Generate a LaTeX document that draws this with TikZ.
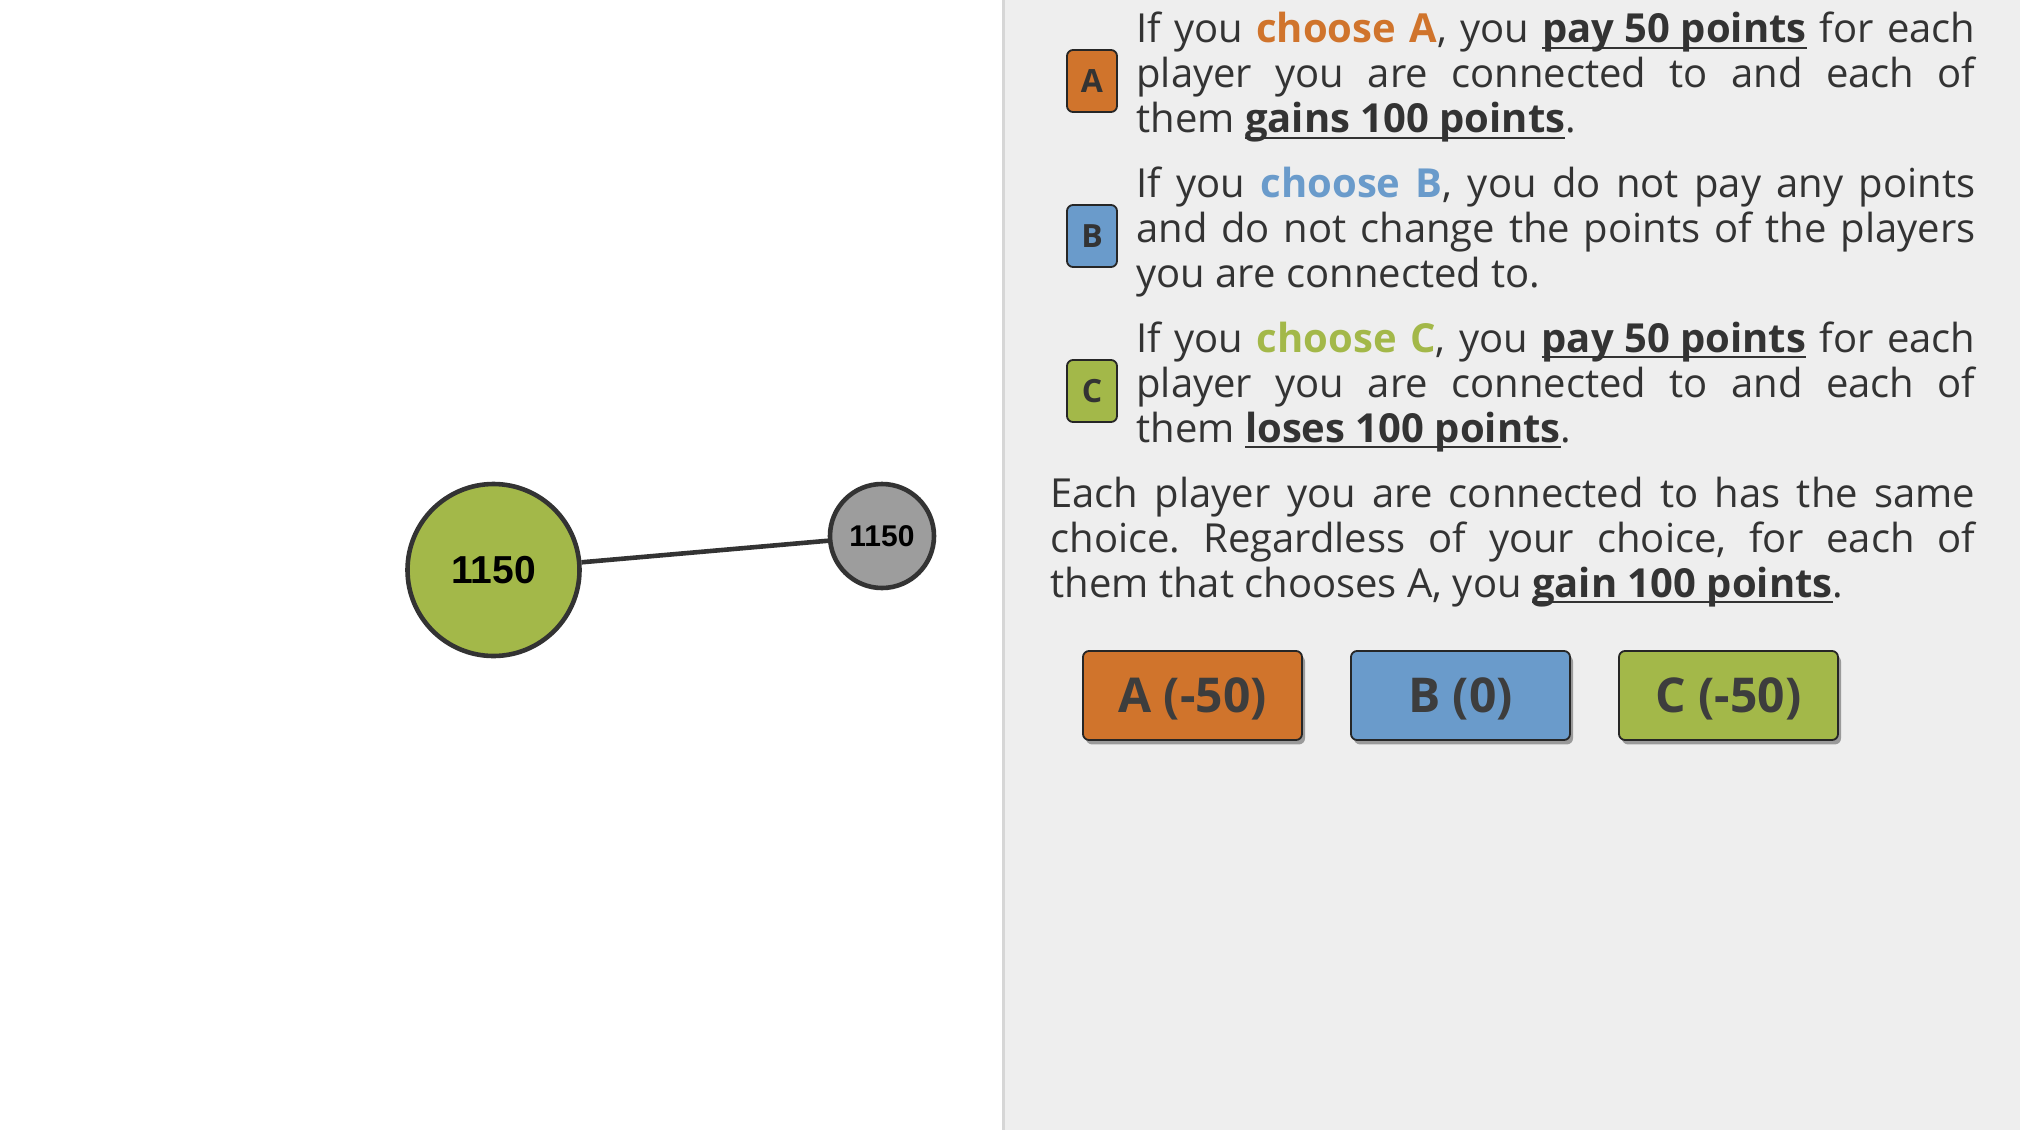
\documentclass[tikz,border=0pt]{standalone}
\usepackage{fontspec}
\setmainfont{Open Sans}
\newfontfamily\numfont{Liberation Sans}
\usetikzlibrary{shadows}

\definecolor{choiceA}{HTML}{D0742C}
\definecolor{choiceB}{HTML}{6A9BCB}
\definecolor{choiceC}{HTML}{A3B849}
\definecolor{peergray}{HTML}{9D9D9D}
\definecolor{panel}{HTML}{EEEEEE}
\definecolor{panelline}{HTML}{D6D6D6}
\definecolor{ink}{HTML}{333333}

\newcommand{\pts}[1]{\setbox0\hbox{\bfseries #1}\rlap{\rule[-3.2pt]{\wd0}{1.2pt}}\box0\relax}
\frenchspacing

\begin{document}
\begin{tikzpicture}[x=0.5pt, y=-0.5pt]
		\tikzstyle{self}=[circle, draw=ink, line width=2.3pt, inner sep=0pt, minimum size=86pt, font=\numfont\bfseries\fontsize{19.5pt}{20pt}\selectfont];
		\tikzstyle{peer}=[circle, draw=ink, line width=2.3pt, inner sep=0pt, minimum size=52pt, font=\numfont\bfseries\fontsize{15pt}{16pt}\selectfont];
		\tikzstyle{link}=[draw=ink, line width=2.3pt];
		\tikzstyle{para}=[anchor=base west, inner sep=0pt, align=justify, text=ink, font=\fontsize{20pt}{22.5pt}\selectfont];
		\tikzstyle{badge}=[draw=black!85, line width=0.9pt, rounded corners=3pt, minimum width=25pt, minimum height=31pt, inner sep=0pt, text=ink, font=\bfseries\fontsize{16pt}{17pt}\selectfont];
		\tikzstyle{choice}=[draw=black!85, line width=0.9pt, rounded corners=3pt, minimum width=109.5pt, minimum height=44.5pt, inner sep=0pt, text=ink!95, font=\bfseries\fontsize{24pt}{26pt}\selectfont, drop shadow={shadow xshift=1.5pt, shadow yshift=-2.2pt, fill=black, opacity=0.35}];

		\useasboundingbox (0,0) rectangle (2020,1130);
		\fill[panel] (1003,0) rectangle (2020,1130);
		\draw[panelline, line width=1.5pt] (1003,0) -- (1003,1130);

		\node[self, fill=choiceC] (me) at (493.5,570) {1150};
		\node[peer, fill=peergray] (other) at (882,536) {1150};
		\draw[link] (me) -- (other);

		\node[badge, fill=choiceA] (badgeA) at (1092,81) {A};
		\node[badge, fill=choiceB] (badgeB) at (1092,236) {B};
		\node[badge, fill=choiceC] (badgeC) at (1092,391) {C};

		\node[para, text width=419.5pt] (ruleA) at (1136,42.5) {If you \textcolor{choiceA}{\bfseries choose A}, you \pts{pay 50 points} for each\linebreak player you are connected to and each of\linebreak them \pts{gains 100 points}.};
		\node[para, text width=419.5pt] (ruleB) at (1136,197) {If you \textcolor{choiceB}{\bfseries choose B}, you do not pay any points\linebreak and do not change the points of the players\linebreak you are connected to.};
		\node[para, text width=419.5pt] (ruleC) at (1136,352) {If you \textcolor{choiceC}{\bfseries choose C}, you \pts{pay 50 points} for each\linebreak player you are connected to and each of\linebreak them \pts{loses 100 points}.};
		\node[para, text width=462.5pt] (ruleAll) at (1050,507) {Each player you are connected to has the same\linebreak choice. Regardless of your choice, for each of\linebreak them that chooses A, you \pts{gain 100 points}.};

		\node[choice, fill=choiceA, text depth=-1pt] (pickA) at (1192.5,695.5) {A (-50)};
		\node[choice, fill=choiceB, text depth=-1pt] (pickB) at (1460.5,695.5) {B (0)};
		\node[choice, fill=choiceC, text depth=-1pt] (pickC) at (1728.5,695.5) {C (-50)};
	\end{tikzpicture}
\end{document}
